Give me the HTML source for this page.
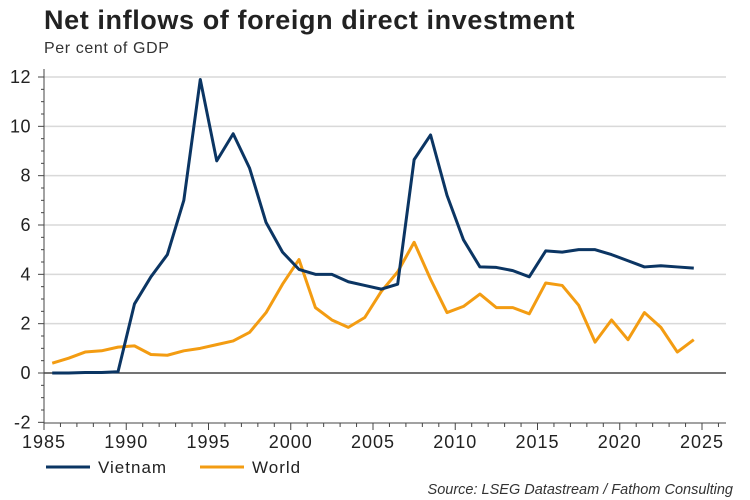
<!DOCTYPE html>
<html><head><meta charset="utf-8"><style>
body{margin:0;background:#fff;}
svg{display:block;font-family:"Liberation Sans",Arial,sans-serif;}
</style></head><body>
<svg id="c" width="750" height="500" viewBox="0 0 750 500">
<text x="44" y="29" font-size="27" font-weight="bold" letter-spacing="0.6" fill="#222">Net inflows of foreign direct investment</text>
<text x="44" y="53" font-size="16" letter-spacing="0.6" fill="#333">Per cent of GDP</text>
<g id="grid"></g><g id="axes"></g><g id="series"></g>
<g>
<line x1="46" y1="467" x2="90" y2="467" stroke="#0b3563" stroke-width="3"/>
<text x="98" y="473" font-size="17" letter-spacing="1" fill="#222">Vietnam</text>
<line x1="200" y1="467" x2="244" y2="467" stroke="#f39c12" stroke-width="3"/>
<text x="252" y="473" font-size="17" letter-spacing="1" fill="#222">World</text>
</g>
<text x="733" y="494" font-size="14.5" font-style="italic" fill="#333" text-anchor="end">Source: LSEG Datastream / Fathom Consulting</text>
</svg>
<script>
const years=[1985,1986,1987,1988,1989,1990,1991,1992,1993,1994,1995,1996,1997,1998,1999,2000,2001,2002,2003,2004,2005,2006,2007,2008,2009,2010,2011,2012,2013,2014,2015,2016,2017,2018,2019,2020,2021,2022,2023,2024];
const vietnam=[0,0,0.02,0.02,0.05,2.8,3.9,4.8,7.0,11.9,8.6,9.7,8.3,6.1,4.9,4.2,4.0,4.0,3.7,3.55,3.4,3.6,8.65,9.65,7.2,5.4,4.3,4.28,4.15,3.9,4.95,4.9,5.0,5.0,4.8,4.55,4.3,4.35,4.3,4.25];
const world=[0.4,0.6,0.85,0.9,1.05,1.1,0.75,0.72,0.9,1.0,1.15,1.3,1.65,2.45,3.6,4.6,2.65,2.15,1.85,2.25,3.3,4.1,5.3,3.8,2.45,2.7,3.2,2.65,2.65,2.4,3.65,3.55,2.75,1.25,2.15,1.35,2.45,1.85,0.85,1.35];
const yTicks=[-2,0,2,4,6,8,10,12];
const xTicks=[1985,1990,1995,2000,2005,2010,2015,2020,2025];
const L=44,R=726,T=77,B=423;
const x=v=>L+(v-1985)*(702-44)/40;
const y=v=>373-v*(373-77)/12;
const NS="http://www.w3.org/2000/svg";
function mk(p,t,a){const e=document.createElementNS(NS,t);for(const k in a)e.setAttribute(k,a[k]);document.getElementById(p).appendChild(e);return e;}
yTicks.forEach(v=>{
 if(v>0){const g=mk('grid','line',{x1:L,x2:R,y1:y(v),y2:y(v),stroke:'#d9d9d9','stroke-width':1.5});
 
 }
 const t=mk('axes','text',{x:31,y:y(v)+6,'font-size':18,'letter-spacing':0.5,fill:'#222','text-anchor':'end'});t.textContent=v;
 
 
});
for(let v=-2;v<=12;v+=0.5){mk('axes','line',{x1:L-(v%2===0?6:3),x2:L,y1:y(v),y2:y(v),stroke:'#444'});}
const z=mk('axes','line',{x1:L,x2:R,y1:y(0),y2:y(0),stroke:'#222','stroke-width':1.2});


mk('axes','line',{x1:L,x2:L,y1:T-8,y2:B,stroke:'#444'});
mk('axes','line',{x1:L,x2:R,y1:B,y2:B,stroke:'#444'});
for(let v=1985;v<=2026;v++){mk('axes','line',{x1:x(v),x2:x(v),y1:B,y2:B+(v%5===0?7:4),stroke:'#444'});}
xTicks.forEach(v=>{const t=mk('axes','text',{x:x(v),y:B+25,'font-size':18,'letter-spacing':1,fill:'#222','text-anchor':'middle'});t.textContent=v;
 
 });
function line(d,c,n){const p=mk('series','polyline',{points:d.map((v,i)=>x(years[i]+0.5)+','+y(v)).join(' '),fill:'none',stroke:c,'stroke-width':3,'stroke-linejoin':'round'});
 
 }
line(world,'#f39c12','world-line');
line(vietnam,'#0b3563','vietnam-line');
</script>
</body></html>
